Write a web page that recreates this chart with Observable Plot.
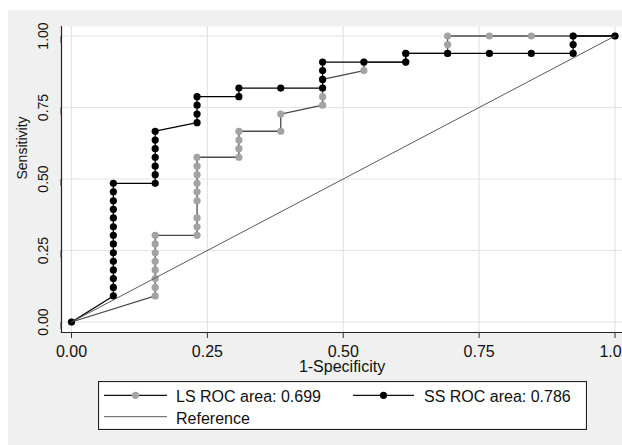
<!DOCTYPE html>
<html>
<head>
<meta charset="utf-8">
<script src="https://cdn.jsdelivr.net/npm/d3@7"></script>
<script src="https://cdn.jsdelivr.net/npm/@observablehq/plot@0.6"></script>
<style>
  html, body { margin: 0; padding: 0; background: #ffffff; }
  body { width: 622px; height: 445px; position: relative; overflow: hidden;
         font-family: "Liberation Sans", Arial, Helvetica, sans-serif; }
  #bg { position: absolute; left: 8px; top: 10px; width: 614px; height: 435px; background: #eff0ef; }
  #chart { position: absolute; left: 0; top: 0; }
  #legend { position: absolute; left: 98px; top: 381px; }
</style>
</head>
<body>
<div id="bg"></div>
<div id="chart"></div>
<div id="legend"></div>
<script>
// ---- data ----
// LS curve: 1-Specificity and Sensitivity
const lsX = [0,
  0.154,0.154,0.154,0.154,0.154,0.154,0.154,0.154,
  0.231,0.231,0.231,0.231,0.231,0.231,0.231,0.231,0.231,
  0.308,0.308,0.308,0.308,
  0.385,0.385,
  0.462,0.462,0.462,0.462,
  0.538,0.538,
  0.615,0.615,
  0.692,0.692,0.692,
  0.769,0.846,0.923,1];
const lsY = [0,
  0.091,0.121,0.152,0.182,0.212,0.242,0.273,0.303,
  0.303,0.333,0.364,0.424,0.455,0.485,0.515,0.545,0.576,
  0.576,0.606,0.636,0.667,
  0.667,0.727,
  0.758,0.788,0.818,0.848,
  0.879,0.909,
  0.909,0.939,
  0.939,0.970,1,
  1,1,1,1];
// SS curve
const ssX = [0,
  0.077,0.077,0.077,0.077,0.077,0.077,0.077,0.077,0.077,0.077,0.077,0.077,0.077,0.077,
  0.154,0.154,0.154,0.154,0.154,0.154,0.154,
  0.231,0.231,0.231,0.231,
  0.308,0.308,
  0.385,
  0.462,0.462,0.462,0.462,
  0.538,
  0.615,0.615,
  0.692,0.769,0.846,
  0.923,0.923,0.923,
  1];
const ssY = [0,
  0.091,0.121,0.152,0.182,0.212,0.242,0.273,0.303,0.333,0.364,0.394,0.424,0.455,0.485,
  0.485,0.515,0.545,0.576,0.606,0.636,0.667,
  0.697,0.727,0.758,0.788,
  0.788,0.818,
  0.818,
  0.818,0.848,0.879,0.909,
  0.909,
  0.909,0.939,
  0.939,0.939,0.939,
  0.939,0.970,1,
  1];
const refX = [0, 1];
const refY = [0, 1];
const xTicks = [0, 0.25, 0.5, 0.75, 1];
const yTicks = [0, 0.25, 0.5, 0.75, 1];
const xTitle = "1-Specificity";
const yTitle = "Sensitivity";
const legendLabels = ["LS ROC area: 0.699", "SS ROC area: 0.786", "Reference"];

const ls = lsX.map((x, i) => ({x, y: lsY[i]}));
const ss = ssX.map((x, i) => ({x, y: ssY[i]}));
const ref = refX.map((x, i) => ({x, y: refY[i]}));

const lsLine = "#4a4a4a", lsDot = "#a3a3a3";
const ssLine = "#000000", ssDot = "#000000";
const refColor = "#5a5a5a";
const fmt = d3.format(".2f");

const chart = Plot.plot({
  width: 622,
  height: 445,
  marginLeft: 61,
  marginRight: 0,
  marginTop: 26,
  marginBottom: 113,
  style: {background: "transparent", fontFamily: "'Liberation Sans', Arial, Helvetica, sans-serif", fontSize: "16px", color: "#111"},
  x: {domain: [0, 1], insetLeft: 10, insetRight: 7.5},
  y: {domain: [0, 1], insetTop: 9.5, insetBottom: 10.5},
  marks: [
    Plot.frame({fill: "white", stroke: "none"}),
    Plot.gridX(xTicks, {stroke: "#e4e4e4", strokeOpacity: 1, strokeWidth: 1.2}),
    Plot.gridY(yTicks, {stroke: "#e4e4e4", strokeOpacity: 1, strokeWidth: 1.2}),
    Plot.frame({anchor: "left", stroke: "#222", strokeWidth: 1.2}),
    Plot.frame({anchor: "bottom", stroke: "#222", strokeWidth: 1.2}),
    Plot.axisX(xTicks, {tickSize: 6, tickPadding: 7, tickFormat: fmt, fontSize: 16, label: null, stroke: "#333"}),
    Plot.axisY(yTicks, {tickSize: 7, tickPadding: 11, tickFormat: fmt, fontSize: 14, rotate: -90, textAnchor: "middle", label: null, stroke: "#333"}),
    Plot.text([xTitle], {frameAnchor: "bottom", dy: 28, lineAnchor: "top", fontSize: 16, fill: "#111"}),
    Plot.text([yTitle], {frameAnchor: "left", dx: -39, rotate: -90, lineAnchor: "middle", fontSize: 14, fill: "#111"}),
    Plot.line(ls, {x: "x", y: "y", stroke: lsLine, strokeWidth: 1.3}),
    Plot.dot(ls, {x: "x", y: "y", r: 3.6, fill: lsDot, stroke: "none"}),
    Plot.line(ss, {x: "x", y: "y", stroke: ssLine, strokeWidth: 1.3}),
    Plot.dot(ss, {x: "x", y: "y", r: 3.6, fill: ssDot, stroke: "none"}),
    Plot.line(ref, {x: "x", y: "y", stroke: refColor, strokeWidth: 1})
  ]
});
document.getElementById("chart").appendChild(chart);

// ---- legend ----
const lw = 489, lh = 49;
const svg = d3.select("#legend").append("svg")
  .attr("width", lw).attr("height", lh)
  .style("font-family", "'Liberation Sans', Arial, Helvetica, sans-serif")
  .style("font-size", "16px");
svg.append("rect").attr("x", 0.5).attr("y", 0.5).attr("width", lw - 1).attr("height", lh - 1)
  .attr("fill", "white").attr("stroke", "#222").attr("stroke-width", 1.2);
const entries = [
  {label: legendLabels[0], x0: 6, x1: 69, cy: 14.3, line: "#111", dot: lsDot, tx: 78, ty: 20.7},
  {label: legendLabels[1], x0: 255, x1: 316, cy: 14.3, line: "#111", dot: ssDot, tx: 326, ty: 20.7},
  {label: legendLabels[2], x0: 6, x1: 69, cy: 35.7, line: "#7a7a7a", dot: null, tx: 78, ty: 42.5}
];
for (const e of entries) {
  svg.append("line").attr("x1", e.x0).attr("x2", e.x1).attr("y1", e.cy).attr("y2", e.cy)
    .attr("stroke", e.line).attr("stroke-width", 1.3);
  if (e.dot) svg.append("circle").attr("cx", (e.x0 + e.x1) / 2).attr("cy", e.cy).attr("r", 3.6).attr("fill", e.dot);
  svg.append("text").attr("x", e.tx).attr("y", e.ty).attr("fill", "#111").text(e.label);
}
</script>
</body>
</html>
